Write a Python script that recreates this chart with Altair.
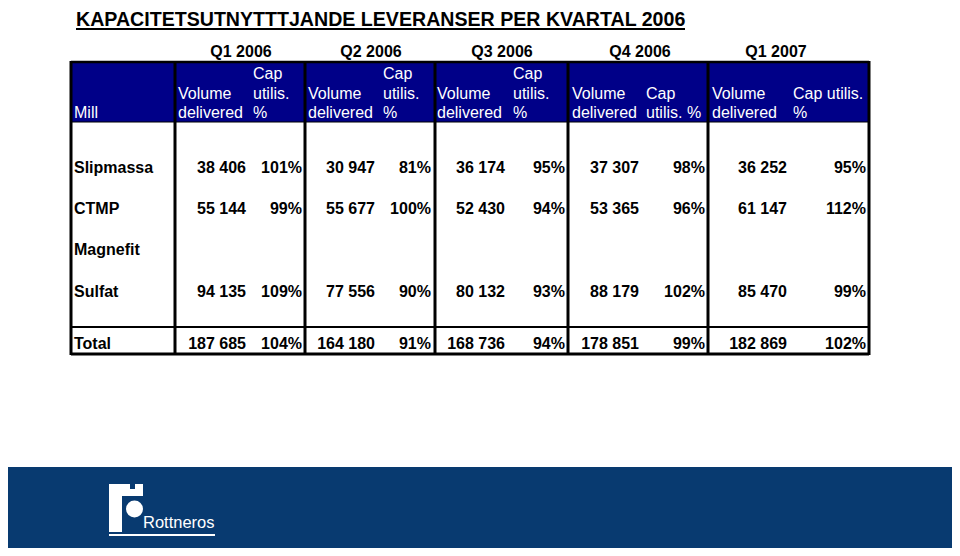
import altair as alt
import pandas as pd

# ---------------- data ----------------
title = "KAPACITETSUTNYTTTJANDE LEVERANSER PER KVARTAL 2006"
quarters = ["Q1 2006", "Q2 2006", "Q3 2006", "Q4 2006", "Q1 2007"]
mills = ["Slipmassa", "CTMP", "Magnefit", "Sulfat"]
total_label = "Total"
first_header = "Mill"

vol_slipmassa = [38406, 30947, 36174, 37307, 36252]
cap_slipmassa = [101, 81, 95, 98, 95]
vol_ctmp = [55144, 55677, 52430, 53365, 61147]
cap_ctmp = [99, 100, 94, 96, 112]
vol_magnefit = [None, None, None, None, None]
cap_magnefit = [None, None, None, None, None]
vol_sulfat = [94135, 77556, 80132, 88179, 85470]
cap_sulfat = [109, 90, 93, 102, 99]
vol_total = [187685, 164180, 168736, 178851, 182869]
cap_total = [104, 91, 94, 99, 102]

vol_header = [["", "Volume", "delivered"]] * 5
cap_header = [["Cap", "utilis.", "%"], ["Cap", "utilis.", "%"], ["Cap", "utilis.", "%"],
              ["", "Cap", "utilis. %"], ["", "Cap utilis.", "%"]]
logo_text = "Rottneros"

# ---------------- layout (page pixels) ----------------
FONT = "Liberation Sans"
X_COL = [71, 175, 305, 435, 568, 708, 869]
X_VOL_RIGHT = [246, 375, 505, 639, 787]
X_CAP_RIGHT = [302, 431, 565, 705, 866]
X_VOL_LEFT = [178, 308, 437, 572, 712]
X_CAP_LEFT = [253, 383, 513, 646, 793]
X_Q_CENTER = [241, 371, 502, 640, 776]
Y_ROW = [173, 214, 255, 297, 349]
Y_HEAD = [79, 99, 118]
Y_TOP, Y_HEAD_BOTTOM, Y_TOTAL_LINE, Y_BOTTOM = 62, 122, 327, 354
Y_TITLE = 26

XS = alt.Scale(domain=[8, 952], nice=False, zero=False)
YS = alt.Scale(domain=[8, 548], nice=False, zero=False, reverse=True)


def fmt_vol(v):
    return f"{v:,}".replace(",", " ")


def text_layer(rows, **kw):
    df = pd.DataFrame(rows, columns=["x", "y", "t"])
    return alt.Chart(df).mark_text(baseline="alphabetic", font=FONT, **kw).encode(
        x=alt.X("x:Q", scale=XS, axis=None),
        y=alt.Y("y:Q", scale=YS, axis=None),
        text="t:N",
    )


# rects
rects = pd.DataFrame([
    # header background
    (X_COL[0], X_COL[-1], Y_TOP, Y_HEAD_BOTTOM, "#000088"),
    # footer banner
    (5, 956, 467, 553, "#083a70"),
    # logo
    (109, 122, 484, 532, "#ffffff"),
    (109, 143, 489, 496, "#ffffff"),
    (109, 116, 484, 490, "#ffffff"),
    (121, 130, 484, 490, "#ffffff"),
    (135, 143, 484, 490, "#ffffff"),
], columns=["x", "x2", "y", "y2", "c"])
rect_layer = alt.Chart(rects).mark_rect().encode(
    x=alt.X("x:Q", scale=XS, axis=None), x2="x2:Q",
    y=alt.Y("y:Q", scale=YS, axis=None), y2="y2:Q",
    color=alt.Color("c:N", scale=None),
)

circle_layer = alt.Chart(pd.DataFrame({"x": [134.5], "y": [509]})).mark_point(
    shape="circle", filled=True, size=290, opacity=1, color="#ffffff", strokeWidth=0
).encode(x=alt.X("x:Q", scale=XS, axis=None), y=alt.Y("y:Q", scale=YS, axis=None))

# rules
rules_rows = []
for i, xc in enumerate(X_COL):
    rules_rows.append((xc, xc, Y_TOP - 1, Y_BOTTOM + 1, 3, "#000000"))
rules_rows += [
    (X_COL[0], X_COL[-1], Y_TOP, Y_TOP, 2.5, "#000000"),
    (X_COL[0], X_COL[-1], Y_HEAD_BOTTOM, Y_HEAD_BOTTOM, 1, "#000000"),
    (X_COL[0], X_COL[-1], Y_TOTAL_LINE, Y_TOTAL_LINE, 2, "#000000"),
    (X_COL[0], X_COL[-1], Y_BOTTOM, Y_BOTTOM, 3, "#000000"),
    (76, 685, Y_TITLE + 3, Y_TITLE + 3, 2, "#000000"),
    (109, 215, 535, 535, 2, "#ffffff"),
]
rules = pd.DataFrame(rules_rows, columns=["x", "x2", "y", "y2", "w", "c"])
rule_layer = alt.Chart(rules).mark_rule().encode(
    x=alt.X("x:Q", scale=XS, axis=None), x2="x2:Q",
    y=alt.Y("y:Q", scale=YS, axis=None), y2="y2:Q",
    strokeWidth=alt.StrokeWidth("w:Q", scale=None),
    color=alt.Color("c:N", scale=None),
)

# texts
title_layer = text_layer([(76, Y_TITLE, title)], align="left", fontSize=19.6, fontWeight="bold", color="#000000")
q_layer = text_layer([(X_Q_CENTER[i], 57, q) for i, q in enumerate(quarters)],
                     align="center", fontSize=16, fontWeight="bold", color="#000000")

head_rows = [(X_COL[0] + 3, Y_HEAD[2], first_header)]
for i in range(5):
    for j in range(3):
        if vol_header[i][j]:
            head_rows.append((X_VOL_LEFT[i], Y_HEAD[j], vol_header[i][j]))
        if cap_header[i][j]:
            head_rows.append((X_CAP_LEFT[i], Y_HEAD[j], cap_header[i][j]))
head_layer = text_layer(head_rows, align="left", fontSize=16, color="#ffffff")

label_rows = [(X_COL[0] + 3, Y_ROW[k], m) for k, m in enumerate(mills + [total_label])]
label_layer = text_layer(label_rows, align="left", fontSize=16, fontWeight="bold", color="#000000")

vols = [vol_slipmassa, vol_ctmp, vol_magnefit, vol_sulfat, vol_total]
caps = [cap_slipmassa, cap_ctmp, cap_magnefit, cap_sulfat, cap_total]
val_rows = []
for k in range(5):
    for i in range(5):
        if vols[k][i] is not None:
            val_rows.append((X_VOL_RIGHT[i], Y_ROW[k], fmt_vol(vols[k][i])))
        if caps[k][i] is not None:
            val_rows.append((X_CAP_RIGHT[i], Y_ROW[k], f"{caps[k][i]}%"))
val_layer = text_layer(val_rows, align="right", fontSize=16, fontWeight="bold", color="#000000")

logo_layer = text_layer([(143, 528, logo_text)], align="left", fontSize=16.5, color="#ffffff")

chart = alt.layer(
    rect_layer, rule_layer, circle_layer, title_layer, q_layer, head_layer,
    label_layer, val_layer, logo_layer,
).properties(width=944, height=540, padding=0, autosize="none").configure_view(stroke=None)

chart.save("out.html", embed_options={"renderer": "svg", "actions": False})
